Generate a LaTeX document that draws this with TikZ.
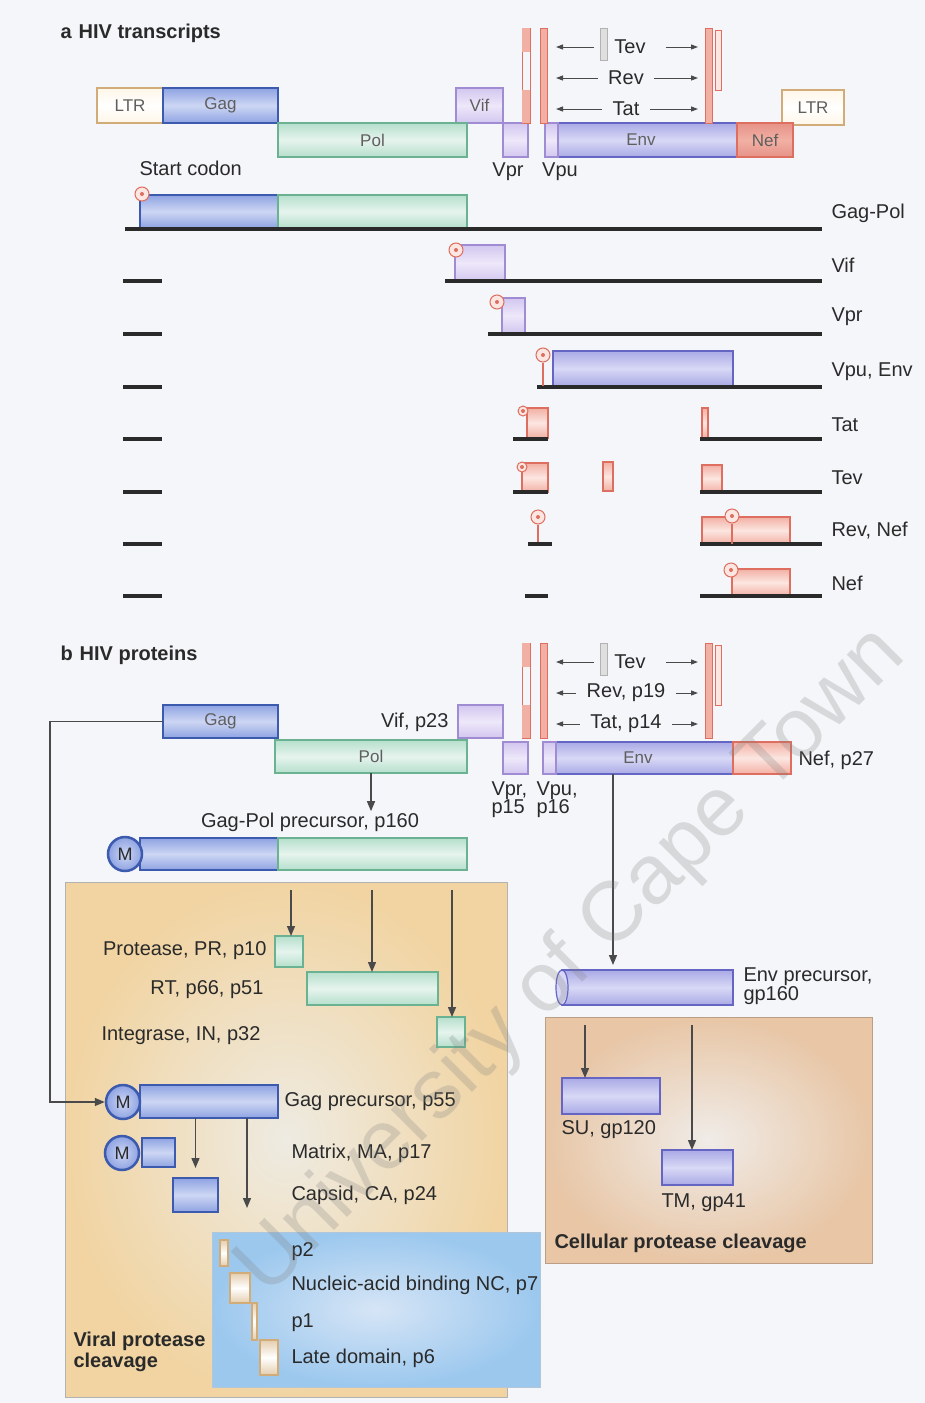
\documentclass[tikz,border=0pt]{standalone}
\usepackage{fontspec}
\setmainfont{Liberation Sans}
\usetikzlibrary{arrows.meta, positioning}
\definecolor{cbg}{HTML}{F4F6F9}
\definecolor{cink}{HTML}{2A2A2A}
\definecolor{carr}{HTML}{4A4A4A}
\definecolor{cgagD}{HTML}{3C5AAE}
\definecolor{cgag}{HTML}{8EA3E2}
\definecolor{cgagL}{HTML}{CDD6F3}
\definecolor{cenvD}{HTML}{6565C4}
\definecolor{cenv}{HTML}{AAAAE6}
\definecolor{cenvL}{HTML}{D8D8F6}
\definecolor{cpolD}{HTML}{6AB291}
\definecolor{cpol}{HTML}{B6DFCC}
\definecolor{cpolL}{HTML}{E6F4EE}
\definecolor{cvD}{HTML}{A08CD2}
\definecolor{cv}{HTML}{D2C6EF}
\definecolor{cvL}{HTML}{EEE8FA}
\definecolor{cpkD}{HTML}{DE6E60}
\definecolor{cpk}{HTML}{F2B0A4}
\definecolor{cpkL}{HTML}{FCE6E1}
\definecolor{cltrD}{HTML}{D2AC78}
\definecolor{cltrL}{HTML}{FFF6E8}
\definecolor{ctan}{HTML}{F1D4A2}
\definecolor{ctanL}{HTML}{EEEBE2}
\definecolor{ccel}{HTML}{E8C6A6}
\definecolor{ccelL}{HTML}{F0ECE8}
\definecolor{csky}{HTML}{9CC8EE}
\definecolor{cskyL}{HTML}{D6E5F6}
\tikzset{
  every picture/.style={line width=1pt},
  seg/.style={draw, inner sep=0pt, outer sep=0pt, anchor=north west, line width=1.2pt,
    font=\fontsize{17}{17}\selectfont, text=cink!75},
  gagbox/.style={seg, draw=cgagD, top color=cgag, bottom color=cgag, middle color=cgagL},
  envbox/.style={seg, draw=cenvD, top color=cenv, bottom color=cenv, middle color=cenvL},
  polbox/.style={seg, draw=cpolD, top color=cpol, bottom color=cpol, middle color=cpolL},
  vbox/.style={seg, draw=cvD, top color=cv, bottom color=cv, middle color=cvL},
  pkbox/.style={seg, draw=cpkD, top color=cpk, bottom color=cpk, middle color=cpkL},
  nefbox/.style={seg, draw=cpkD, top color=cpkD!75, bottom color=cpkD!75, middle color=cpk},
  ltrbox/.style={seg, draw=cltrD, top color=cltrL, bottom color=cltrL, middle color=white},
  tinybox/.style={seg, draw=cltrD, top color=cltrD!60, bottom color=cltrD!60, middle color=white},
  exon/.style={draw=cpkD, fill=cpk, line width=0.8pt},
  lab/.style={font=\fontsize{20}{22}\selectfont, text=cink, inner sep=1pt},
  ttl/.style={font=\fontsize{20}{22}\selectfont\bfseries, text=cink, anchor=west, inner sep=0pt},
  rna/.style={draw=cink, line width=3.5pt},
  arr/.style={draw=carr, line width=1.4pt, -{Triangle[length=10pt, width=8pt]}},
  tarr/.style={draw=carr, line width=1pt, -{Triangle[length=7pt, width=5pt]}},
  stem/.style={draw=cpkD, line width=1.2pt},
  codon/.style={circle, draw=cpkD, fill=cpkL, minimum size=14pt, inner sep=0pt, line width=1pt,
    path picture={\fill[cpkD] (path picture bounding box.center) circle (2pt);}},
  mcap/.style={circle, draw=cgagD, line width=2.5pt, inner color=cgagL, outer color=cgag,
    minimum size=34pt, inner sep=0pt, font=\fontsize{18}{18}\selectfont, text=cink},
  area/.style={draw=gray!60, line width=1pt, inner sep=0pt, outer sep=0pt, anchor=north west},
}

\begin{document}
\begin{tikzpicture}[x=1pt, y=-1pt]
  \fill[cbg] (0,0) rectangle (925,1403);
  \useasboundingbox (0,0) rectangle (925,1403);

  % a: genome map
  \node[ttl] (ta) at (60,33) {a\hspace{7pt}HIV transcripts};
  \node[ltrbox, minimum width=66pt, minimum height=35pt] (ltrL) at (97,88) {LTR};
  \node[gagbox, minimum width=115pt, minimum height=35pt] (gagA) at (163,88) {Gag};
  \node[vbox, minimum width=47pt, minimum height=35pt] (vifA) at (456,88) {Vif};
  \node[ltrbox, minimum width=62pt, minimum height=35pt] (ltrR) at (782,90) {LTR};
  \node[polbox, minimum width=189pt, minimum height=34pt] (polA) at (278,123) {Pol};
  \node[vbox, minimum width=25pt, minimum height=34pt] (vprA) at (503,123) {};
  \node[envbox, minimum width=192pt, minimum height=34pt] (envA) at (545,123) {Env};
  \node[vbox, minimum width=13pt, minimum height=34pt] (vpuA) at (545,123) {};
  \node[nefbox, minimum width=56pt, minimum height=34pt] (nefA) at (737,123) {Nef};
  \node[lab] (lvpr) at (508,172) {Vpr};
  \node[lab] (lvpu) at (560,172) {Vpu};
  \node[lab, anchor=west] (lsc) at (138,168) {Start codon};

  % splice exons of tat, rev and tev, same in a and b
  \foreach \dy/\revtxt/\tattxt in {0/Rev/Tat, 615/{Rev, p19}/{Tat, p14}} {
    \begin{scope}[shift={(0,\dy)}]
      \draw[cpkD, line width=0.8pt] (522,28) rectangle (530,123);
      \fill[cpk] (522,28) rectangle (530,52);
      \fill[cpk] (522,90) rectangle (530,123);
      \draw[exon] (540,28) rectangle (547,123);
      \draw[exon, draw=gray!60, fill=gray!25] (600,28) rectangle (607,60);
      \draw[exon] (705,28) rectangle (712,123);
      \draw[exon, fill=cpkL] (715,30) rectangle (721,90);
      \coordinate (exL\dy) at (556,0);
      \coordinate (exR\dy) at (698,0);
      \node[lab, inner xsep=20pt] (tev\dy) at (630,47) {Tev};
      \node[lab, inner xsep=10pt] (rev\dy) at (626,78) {\revtxt};
      \node[lab, inner xsep=10pt] (tat\dy) at (626,109) {\tattxt};
      \foreach \n in {tev,rev,tat} {
        \draw[tarr] (\n\dy.west) -- (\n\dy.west -| exL\dy);
        \draw[tarr] (\n\dy.east) -- (\n\dy.east -| exR\dy);
      }
    \end{scope}
  }

  % a: transcripts
  \node[gagbox, minimum width=138pt, minimum height=33pt] (tGag) at (140,195) {};
  \node[polbox, minimum width=189pt, minimum height=33pt] (tPol) at (278,195) {};
  \draw[rna] (125,229) -- (822,229);
  \node[codon] (sc1) at (142,194) {};
  \node[lab, anchor=west] (rGP) at (830,213) {Gag-Pol};

  \node[vbox, minimum width=50pt, minimum height=36pt] (tVif) at (455,245) {};
  \draw[rna] (123,281) -- (162,281);  \draw[rna] (445,281) -- (822,281);
  \node[codon] (sc2) at (456,250) {};
  \node[lab, anchor=west] (rVif) at (830,265) {Vif};

  \node[vbox, minimum width=23pt, minimum height=35pt] (tVpr) at (502,298) {};
  \draw[rna] (123,334) -- (162,334);  \draw[rna] (488,334) -- (822,334);
  \node[codon] (sc3) at (497,302) {};
  \node[lab, anchor=west] (rVpr) at (830,317) {Vpr};

  \node[envbox, minimum width=180pt, minimum height=35pt] (tEnv) at (553,351) {};
  \draw[rna] (123,387) -- (162,387);  \draw[rna] (537,387) -- (822,387);
  \node[codon] (sc4) at (543,355) {};
  \draw[stem] (sc4.south) -- (sc4 |- tEnv.south);
  \node[lab, anchor=west] (rEnv) at (830,372) {Vpu, Env};

  \node[pkbox, minimum width=21pt, minimum height=30pt] (tTat1) at (527,408) {};
  \node[pkbox, minimum width=6pt, minimum height=30pt] (tTat2) at (702,408) {};
  \draw[rna] (123,439) -- (162,439);  \draw[rna] (513,439) -- (548,439);  \draw[rna] (700,439) -- (822,439);
  \node[codon, minimum size=10pt] (sc5) at (523,411) {};
  \node[lab, anchor=west] (rTat) at (830,425) {Tat};

  \node[pkbox, minimum width=26pt, minimum height=29pt] (tTev1) at (522,463) {};
  \node[pkbox, minimum width=10pt, minimum height=29pt] (tTev2) at (603,462) {};
  \node[pkbox, minimum width=20pt, minimum height=27pt] (tTev3) at (702,465) {};
  \draw[rna] (123,492) -- (162,492);  \draw[rna] (513,492) -- (548,492);  \draw[rna] (700,492) -- (822,492);
  \node[codon, minimum size=10pt] (sc6) at (522,467) {};
  \node[lab, anchor=west] (rTev) at (830,478) {Tev};

  \node[pkbox, minimum width=88pt, minimum height=27pt] (tRN) at (702,517) {};
  \draw[rna] (123,544) -- (162,544);  \draw[rna] (528,544) -- (552,544);  \draw[rna] (700,544) -- (822,544);
  \node[codon] (sc7) at (538,517) {};
  \draw[stem] (sc7.south) -- (538,542);
  \node[codon] (sc8) at (732,516) {};
  \draw[stem] (sc8.south) -- (sc8 |- tRN.south);
  \node[lab, anchor=west] (rRN) at (830,531) {Rev, Nef};

  \node[pkbox, minimum width=58pt, minimum height=27pt] (tNef) at (732,569) {};
  \draw[rna] (123,596) -- (162,596);  \draw[rna] (525,596) -- (548,596);  \draw[rna] (700,596) -- (822,596);
  \node[codon] (sc9) at (731,570) {};
  \node[lab, anchor=west] (rNef) at (830,583) {Nef};

  % b: proteins
  \node[ttl] (tb) at (60,655) {b\hspace{7pt}HIV proteins};
  \node[gagbox, minimum width=115pt, minimum height=33pt] (gagB) at (163,705) {Gag};
  \node[lab, anchor=east] (lVif) at (450,722) {Vif, p23};
  \node[vbox, minimum width=45pt, minimum height=33pt] (vifB) at (458,705) {};
  \node[polbox, minimum width=192pt, minimum height=33pt] (polB) at (275,740) {Pol};
  \node[vbox, minimum width=25pt, minimum height=32pt] (vprB) at (503,742) {};
  \node[envbox, minimum width=190pt, minimum height=32pt] (envB) at (543,742) {Env};
  \node[vbox, minimum width=13pt, minimum height=32pt] (vpuB) at (543,742) {};
  \node[pkbox, minimum width=58pt, minimum height=32pt] (nefB) at (733,742) {};
  \node[lab, anchor=west] (lNef) at (797,760) {Nef, p27};
  \node[lab, anchor=north west, align=left] (lVpr) at (490,780) {Vpr,\\[-4pt]p15};
  \node[lab, anchor=north west, align=left] (lVpu) at (535,780) {Vpu,\\[-4pt]p16};

  \node[lab] (lGP) at (310,822) {Gag-Pol precursor, p160};
  \draw[arr] (polB.south) -- (polB.south |- lGP.north);
  \node[gagbox, minimum width=138pt, minimum height=32pt] (gpG) at (140,838) {};
  \node[polbox, minimum width=189pt, minimum height=32pt] (gpP) at (278,838) {};
  \node[mcap] (mGP) at (125,854) {M};

  % viral protease cleavage
  \node[area, inner color=ctanL, outer color=ctan, minimum width=442pt, minimum height=515pt] (vpBox) at (65,882) {};
  \coordinate (cutA) at (291,890);
  \coordinate (cutB) at (372,890);
  \coordinate (cutC) at (452,890);
  \node[polbox, minimum width=28pt, minimum height=31pt] (prB) at (275,936) {};
  \node[polbox, minimum width=131pt, minimum height=33pt] (rtB) at (307,972) {};
  \node[polbox, minimum width=28pt, minimum height=30pt] (inB) at (437,1017) {};
  \draw[arr] (cutA) -- (cutA |- prB.north);
  \draw[arr] (cutB) -- (cutB |- rtB.north);
  \draw[arr] (cutC) -- (cutC |- inB.north);
  \node[lab, anchor=east] (lPR) at (268,951) {Protease, PR, p10};
  \node[lab, anchor=east] (lRT) at (265,990) {RT, p66, p51};
  \node[lab, anchor=east] (lIN) at (262,1036) {Integrase, IN, p32};

  \node[gagbox, minimum width=138pt, minimum height=33pt] (gagPre) at (140,1085) {};
  \node[mcap] (mGag) at (123,1102) {M};
  \draw[arr] (gagB.west) -- ++(-113,0) |- (mGag.west);
  \node[lab, anchor=west] (lGag) at (283,1102) {Gag precursor, p55};
  \node[gagbox, minimum width=33pt, minimum height=29pt] (maB) at (142,1138) {};
  \node[mcap] (mMA) at (122,1153) {M};
  \node[lab, anchor=west] (lMA) at (290,1153) {Matrix, MA, p17};
  \node[gagbox, minimum width=45pt, minimum height=34pt] (caB) at (173,1178) {};
  \node[lab, anchor=west] (lCA) at (290,1195) {Capsid, CA, p24};
  \coordinate (ncA) at (247,1208);
  \draw[arr] (gagPre.south -| caB.north) -- ([yshift=10pt]caB.north);
  \draw[arr] (gagPre.south -| ncA) -- (ncA);

  \node[area, draw=csky!80!black!60, inner color=cskyL, outer color=csky, minimum width=328pt, minimum height=155pt] (skyB) at (212,1232) {};
  \node[tinybox, minimum width=8pt, minimum height=26pt] (p2B) at (220,1240) {};
  \node[tinybox, minimum width=20pt, minimum height=30pt] (ncB) at (230,1273) {};
  \node[tinybox, minimum width=5pt, minimum height=37pt] (p1B) at (252,1303) {};
  \node[tinybox, minimum width=18pt, minimum height=35pt] (p6B) at (260,1340) {};
  \node[lab, anchor=west] (lp2) at (290,1252) {p2};
  \node[lab, anchor=west] (lNC) at (290,1285) {Nucleic-acid binding NC, p7};
  \node[lab, anchor=west] (lp1) at (290,1323) {p1};
  \node[lab, anchor=west] (lp6) at (290,1358) {Late domain, p6};
  \node[lab, font=\fontsize{20}{21}\selectfont\bfseries, anchor=north west, align=left] (lVP) at (72,1330) {Viral protease\\cleavage};

  % envelope processing
  \node[envbox, minimum width=171pt, minimum height=35pt] (envPre) at (562,970) {};
  \draw[cenvD, line width=1.2pt, fill=cenvL] (envPre.west) ellipse (6pt and 17.5pt);
  \draw[arr, shorten >=5pt] ([xshift=-25pt]envB.south) -- ([xshift=-25pt]envB.south |- envPre.north);
  \node[lab, anchor=north west, align=left] (lEnv) at (742,966) {Env precursor,\\[-3pt]gp160};
  \node[area, draw=ccel!80!black, inner color=ccelL, outer color=ccel, minimum width=327pt, minimum height=246pt] (clBox) at (545,1017) {};
  \coordinate (cutD) at (585,1025);
  \coordinate (cutE) at (692,1025);
  \node[envbox, minimum width=98pt, minimum height=36pt] (suB) at (562,1078) {};
  \node[envbox, minimum width=71pt, minimum height=35pt] (tmB) at (662,1150) {};
  \draw[arr] (cutD) -- (cutD |- suB.north);
  \draw[arr] (cutE) -- (cutE |- tmB.north);
  \node[lab, anchor=west] (lSU) at (560,1130) {SU, gp120};
  \node[lab, anchor=west] (lTM) at (660,1203) {TM, gp41};
  \node[lab, font=\fontsize{20}{22}\selectfont\bfseries, anchor=west] (lCP) at (553,1243) {Cellular protease cleavage};

  % watermark
  \node[rotate=45, text=gray, opacity=0.25, font=\fontsize{84}{84}\selectfont] (wm) at (572,962) {University of Cape Town};
\end{tikzpicture}
\end{document}
